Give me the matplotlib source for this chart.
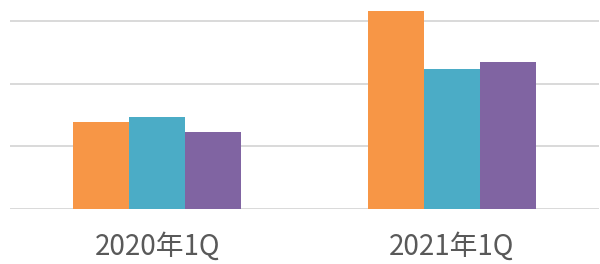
import matplotlib.pyplot as plt
import numpy as np

plt.rcParams['font.family'] = ['Noto Sans CJK SC', 'DejaVu Sans']

# quarters and three series (gridline units)
quarters = ['2020年1Q', '2021年1Q']
series_a = [1.38, 3.15]   # orange
series_b = [1.47, 2.23]   # teal
series_c = [1.22, 2.34]   # purple
colors = ['#F79646', '#4BACC6', '#8064A2']

fig = plt.figure(figsize=(6, 2.64), dpi=100)
ax = fig.add_axes([10/600, 55/264, 589/600, 209/264])

x = np.arange(len(quarters))
w = 0.19
for i, (vals, c) in enumerate(zip([series_a, series_b, series_c], colors)):
    ax.bar(x + (i - 1) * w, vals, width=w, color=c, zorder=3)

ax.set_xlim(-0.5, 1.5)
ax.set_ylim(0, 3.333)
ax.set_yticks([0, 1, 2, 3])
ax.yaxis.grid(True, color='#D9D9D9', linewidth=1.4, zorder=0)
ax.tick_params(axis='y', left=False, labelleft=False)
ax.tick_params(axis='x', bottom=False, pad=13)
ax.set_xticks(x)
ax.set_xticklabels(quarters, fontsize=20, color='#595959')
for s in ax.spines.values():
    s.set_visible(False)

fig.savefig('out.png', dpi=100)
